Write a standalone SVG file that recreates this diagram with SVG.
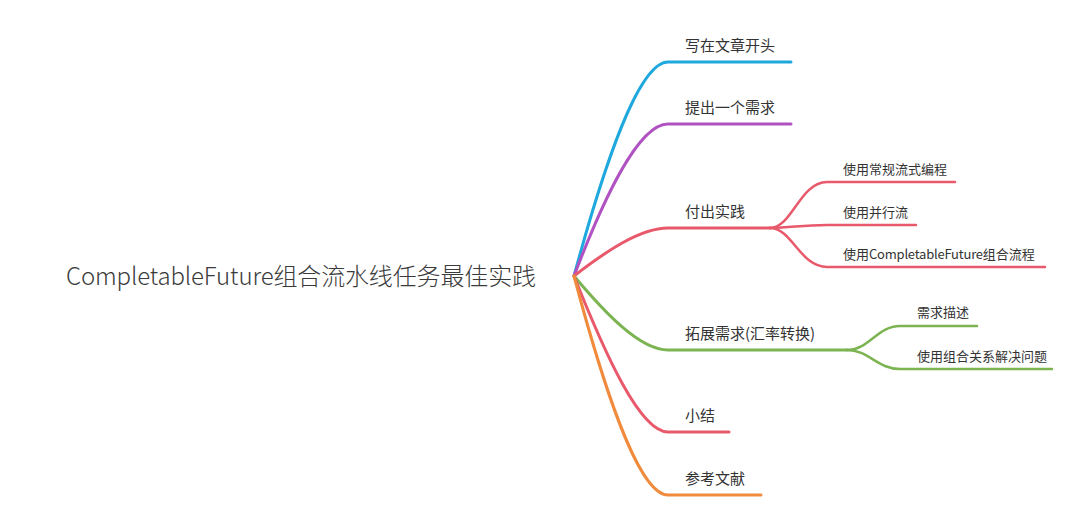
<svg xmlns="http://www.w3.org/2000/svg" width="1080" height="526" viewBox="0 0 1080 526">
<style>
text{font-family:"Noto Sans CJK SC","Noto Sans",sans-serif;fill:#333}
.root{font-size:24px;font-weight:300;fill:#3a3a3a}
.main{font-size:15px}
.sub{font-size:13px}
.c{fill:none;stroke-linecap:round;stroke-linejoin:round}
.m{stroke-width:3}
.s{stroke-width:2.5}
.blue{stroke:#1ea8dd}
.purple{stroke:#b052c2}
.red{stroke:#e85a6b}
.green{stroke:#7cb452}
.orange{stroke:#f08a3c}
</style>
<rect width="1080" height="526" fill="#ffffff"/>
<g id="connectors">
<path class="c m blue" d="M574,276 C603,169 638,62 668,62 L791,62"/>
<path class="c m purple" d="M574,276 C603,200 638,124 668,124 L791,124"/>
<path class="c m red" d="M574,276 C605,252 640,228 668,228 L770,228"/>
<path class="c m green" d="M574,276 C605,313 640,350 668,350 L847,350"/>
<path class="c m red" d="M574,276 C605,354 640,432 668,432 L729,432"/>
<path class="c m orange" d="M574,276 C603,385 638,495 668,495 L761,495"/>
<path class="c s red" d="M770,228 C792,228 800,182 827,182 L955,182"/>
<path class="c s red" d="M770,228 C792,228 800,225 827,225 L916,225"/>
<path class="c s red" d="M770,228 C792,228 800,267 827,267 L1045,267"/>
<path class="c s green" d="M847,350 C869,350 877,326 900,326 L977,326"/>
<path class="c s green" d="M847,350 C869,350 877,369 900,369 L1052,369"/>
</g>
<g id="root"><text class="root" x="66" y="285" textLength="470" lengthAdjust="spacing">CompletableFuture组合流水线任务最佳实践</text></g>
<g id="n1"><text class="main" x="685" y="51">写在文章开头</text></g>
<g id="n2"><text class="main" x="685" y="113">提出一个需求</text></g>
<g id="n3"><text class="main" x="685" y="217">付出实践</text></g>
<g id="n3a"><text class="sub" x="843" y="174">使用常规流式编程</text></g>
<g id="n3b"><text class="sub" x="843" y="217">使用并行流</text></g>
<g id="n3c"><text class="sub" x="843" y="259">使用<tspan textLength="114" lengthAdjust="spacing">CompletableFuture</tspan>组合流程</text></g>
<g id="n4"><text class="main" x="685" y="339">拓展需求(汇率转换)</text></g>
<g id="n4a"><text class="sub" x="917" y="317">需求描述</text></g>
<g id="n4b"><text class="sub" x="917" y="361">使用组合关系解决问题</text></g>
<g id="n5"><text class="main" x="685" y="421">小结</text></g>
<g id="n6"><text class="main" x="685" y="484">参考文献</text></g>
</svg>
